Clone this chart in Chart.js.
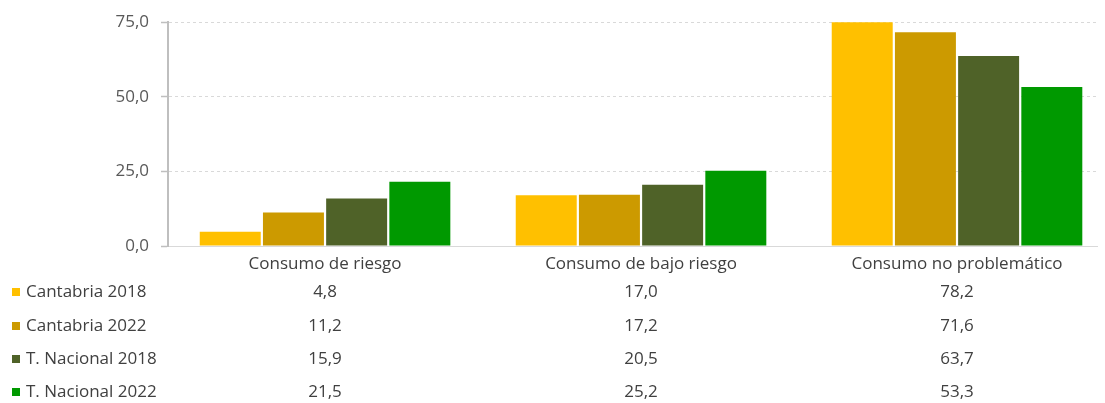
<!DOCTYPE html>
<html>
<head>
<meta charset="utf-8">
<script src="https://cdn.jsdelivr.net/npm/chart.js@4/dist/chart.umd.min.js"></script>
<style>
  html, body { margin: 0; padding: 0; background: #fff; }
  #wrap { width: 1105px; height: 403px; position: relative; }
</style>
</head>
<body>
<div id="wrap"><canvas id="consumoGraph"></canvas></div>
<script>
// datos
var categorias = ['Consumo de riesgo', 'Consumo de bajo riesgo', 'Consumo no problemático'];
var series = ['Cantabria 2018', 'Cantabria 2022', 'T. Nacional 2018', 'T. Nacional 2022'];
var cantabria2018 = [4.8, 17.0, 78.2];
var cantabria2022 = [11.2, 17.2, 71.6];
var nacional2018 = [15.9, 20.5, 63.7];
var nacional2022 = [21.5, 25.2, 53.3];
var colores = ['#FFC000', '#CC9A00', '#4F6228', '#009900'];

var valores = [cantabria2018, cantabria2022, nacional2018, nacional2022];
var fuente = '"Open Sans", "Liberation Sans", sans-serif';

function fmt(v) {
  return v.toFixed(1).replace('.', ',');
}

//tabla de datos debajo del grafico
var tablaDatos = {
  id: 'tablaDatos',
  afterDraw: function(chart) {
    var ctx = chart.ctx;
    var x = chart.scales.x;
    var filas = [292, 326, 359, 392];
    ctx.save();
    ctx.font = '17px ' + fuente;
    ctx.textBaseline = 'middle';
    for (var i = 0; i < series.length; i++) {
      var y = filas[i];
      ctx.fillStyle = colores[i];
      ctx.fillRect(12, y - 4, 8, 8);
      ctx.fillStyle = '#404040';
      ctx.textAlign = 'left';
      ctx.fillText(series[i], 26, y);
      ctx.textAlign = 'center';
      for (var j = 0; j < categorias.length; j++) {
        ctx.fillText(fmt(valores[i][j]), x.getPixelForValue(j), y);
      }
    }
    ctx.restore();
  }
};

new Chart(document.getElementById('consumoGraph'), {
  type: 'bar',
  data: {
    datasets: series.map(function(s, i) {
      return {
        label: s,
        data: valores[i].map(function(v, j) { return { x: j, y: v }; }),
        backgroundColor: colores[i],
        borderWidth: 0,
        categoryPercentage: 0.80,
        barPercentage: 0.965
      };
    })
  },
  options: {
    responsive: true,
    maintainAspectRatio: false,
    animation: false,
    layout: { padding: { top: 21, right: 8, left: 0, bottom: 0 } },
    plugins: {
      legend: { display: false },
      tooltip: { enabled: false }
    },
    scales: {
      x: {
        type: 'linear',
        offset: false,
        min: -0.497,
        max: 2.443,
        grid: { display: false },
        border: { display: true, color: '#D9D9D9', width: 1 },
        afterBuildTicks: function(scale) {
          scale.ticks = categorias.map(function(c, j) { return { value: j }; });
        },
        ticks: {
          color: '#404040',
          font: { size: 17, family: fuente },
          padding: 0,
          maxRotation: 0,
          autoSkip: false,
          callback: function(v) { return categorias[v]; }
        },
        afterFit: function(scale) { scale.height = 157; }
      },
      y: {
        min: 0,
        max: 75,
        ticks: {
          stepSize: 25,
          color: '#595959',
          font: { size: 17, family: fuente },
          padding: 12,
          callback: function(v) { return fmt(v); }
        },
        grid: {
          color: '#D9D9D9',
          lineWidth: 1,
          drawTicks: true,
          tickLength: 7,
          tickColor: '#BFBFBF',
          tickWidth: 1.5,
          tickBorderDash: []
        },
        border: { display: true, color: '#BFBFBF', width: 2, dash: [3, 3] },
        afterFit: function(scale) { scale.width = 168; }
      }
    }
  },
  plugins: [tablaDatos]
});
</script>
</body>
</html>
